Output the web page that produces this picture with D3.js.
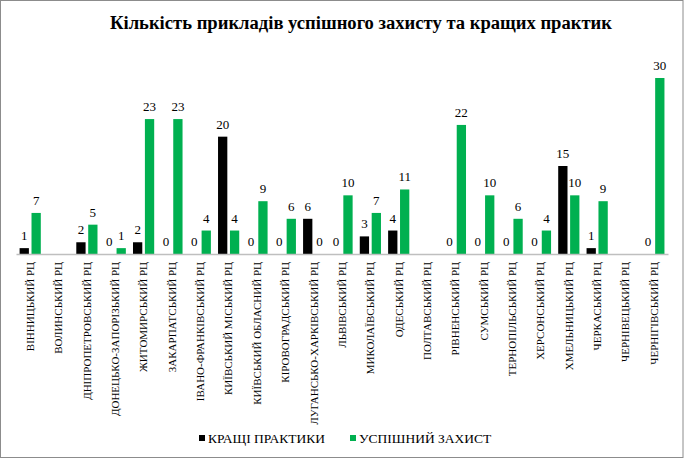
<!DOCTYPE html>
<html>
<head>
<meta charset="utf-8">
<style>
  body { margin: 0; background: #fff; }
</style>
</head>
<body>
<div id="chart"></div>
<script src="https://d3js.org/d3.v7.min.js"></script>
<script>
const categories = [
  "ВІННИЦЬКИЙ РЦ", "ВОЛИНСЬКИЙ РЦ", "ДНІПРОПЕТРОВСЬКИЙ РЦ", "ДОНЕЦЬКО-ЗАПОРІЗЬКИЙ РЦ",
  "ЖИТОМИРСЬКИЙ РЦ", "ЗАКАРПАТСЬКИЙ РЦ", "ІВАНО-ФРАНКІВСЬКИЙ РЦ", "КИЇВСЬКИЙ МІСЬКИЙ РЦ",
  "КИЇВСЬКИЙ ОБЛАСНИЙ РЦ", "КІРОВОГРАДСЬКИЙ РЦ", "ЛУГАНСЬКО-ХАРКІВСЬКИЙ РЦ", "ЛЬВІВСЬКИЙ РЦ",
  "МИКОЛАЇВСЬКИЙ РЦ", "ОДЕСЬКИЙ РЦ", "ПОЛТАВСЬКИЙ РЦ", "РІВНЕНСЬКИЙ РЦ", "СУМСЬКИЙ РЦ",
  "ТЕРНОПІЛЬСЬКИЙ РЦ", "ХЕРСОНСЬКИЙ РЦ", "ХМЕЛЬНИЦЬКИЙ РЦ", "ЧЕРКАСЬКИЙ РЦ",
  "ЧЕРНІВЕЦЬКИЙ РЦ", "ЧЕРНІГІВСЬКИЙ РЦ"
];
// null = no data (no bar, no label)
const bestPractices = [1, null, 2, 0, 2, 0, 0, 20, 0, 0, 6, 0, 3, 4, null, 0, 0, 0, 0, 15, 1, null, 0];
const successfulDefense = [7, null, 5, 1, 23, 23, 4, 4, 9, 6, 0, 10, 7, 11, null, 22, 10, 6, 4, 10, 9, null, 30];
const seriesNames = ["КРАЩІ ПРАКТИКИ", "УСПІШНИЙ ЗАХИСТ"];
const seriesColors = ["#000000", "#00b050"];

const width = 684, height = 459;
const left = 16, right = 668, axisY = 254;
const serif = '"Liberation Serif", "Times New Roman", serif';

const svg = d3.select("#chart").append("svg")
  .attr("width", width)
  .attr("height", height);

svg.append("rect")
  .attr("x", 0.5).attr("y", 0.5)
  .attr("width", width - 1.5).attr("height", height - 2)
  .attr("fill", "#fff")
  .attr("stroke", "#8c8c8c");

svg.append("text")
  .attr("x", 110)
  .attr("y", 29)
  .style("font-family", serif)
  .style("font-size", "18.5px")
  .style("font-weight", "bold")
  .attr("textLength", 502)
  .attr("lengthAdjust", "spacingAndGlyphs")
  .text("Кількість прикладів успішного захисту та кращих практик");

const x0 = d3.scaleBand().domain(categories).range([left, right]).padding(0);
const x1 = d3.scaleBand().domain([0, 1]).range([3.6, 24.8]).paddingInner(0.22);
const y = d3.scaleLinear().domain([0, 30]).range([axisY, 78]);

const rows = categories.map((c, i) => ({ c, vals: [bestPractices[i], successfulDefense[i]] }));

const groups = svg.append("g").selectAll("g")
  .data(rows)
  .join("g")
  .attr("transform", d => `translate(${x0(d.c)},0)`);

const cells = groups.selectAll("g")
  .data(d => d.vals.map((v, k) => ({ v, k })).filter(e => e.v !== null))
  .join("g");

cells.append("rect")
  .attr("x", e => x1(e.k))
  .attr("width", x1.bandwidth())
  .attr("y", e => y(e.v))
  .attr("height", e => axisY - y(e.v))
  .attr("fill", e => seriesColors[e.k]);

cells.append("text")
  .attr("x", e => x1(e.k) + x1.bandwidth() / 2)
  .attr("y", e => y(e.v) - 8)
  .attr("text-anchor", "middle")
  .style("font-family", serif)
  .style("font-size", "13px")
  .attr("fill", "#000")
  .text(e => e.v);

// category axis
const xAxis = svg.append("g")
  .attr("transform", `translate(0,${axisY})`)
  .call(d3.axisBottom(x0).tickSize(0).tickPadding(0));
xAxis.select(".domain").attr("stroke", "#bfbfbf").attr("stroke-width", 1.3);
xAxis.selectAll("text")
  .style("font-family", serif)
  .style("font-size", "11px")
  .attr("fill", "#000")
  .attr("transform", "rotate(-90)")
  .attr("text-anchor", "end")
  .attr("dy", "0.35em")
  .attr("x", -8)
  .attr("y", 0);

// legend
const legendX = [199, 350];
const legend = svg.append("g").selectAll("g")
  .data(seriesNames)
  .join("g")
  .attr("transform", (d, i) => `translate(${legendX[i]},438)`);
legend.append("rect")
  .attr("x", 0).attr("y", -3)
  .attr("width", 6).attr("height", 6)
  .attr("fill", (d, i) => seriesColors[i]);
legend.append("text")
  .attr("x", 9)
  .attr("dy", "0.35em")
  .style("font-family", serif)
  .style("font-size", "13.5px")
  .text(d => d);
</script>
</body>
</html>
